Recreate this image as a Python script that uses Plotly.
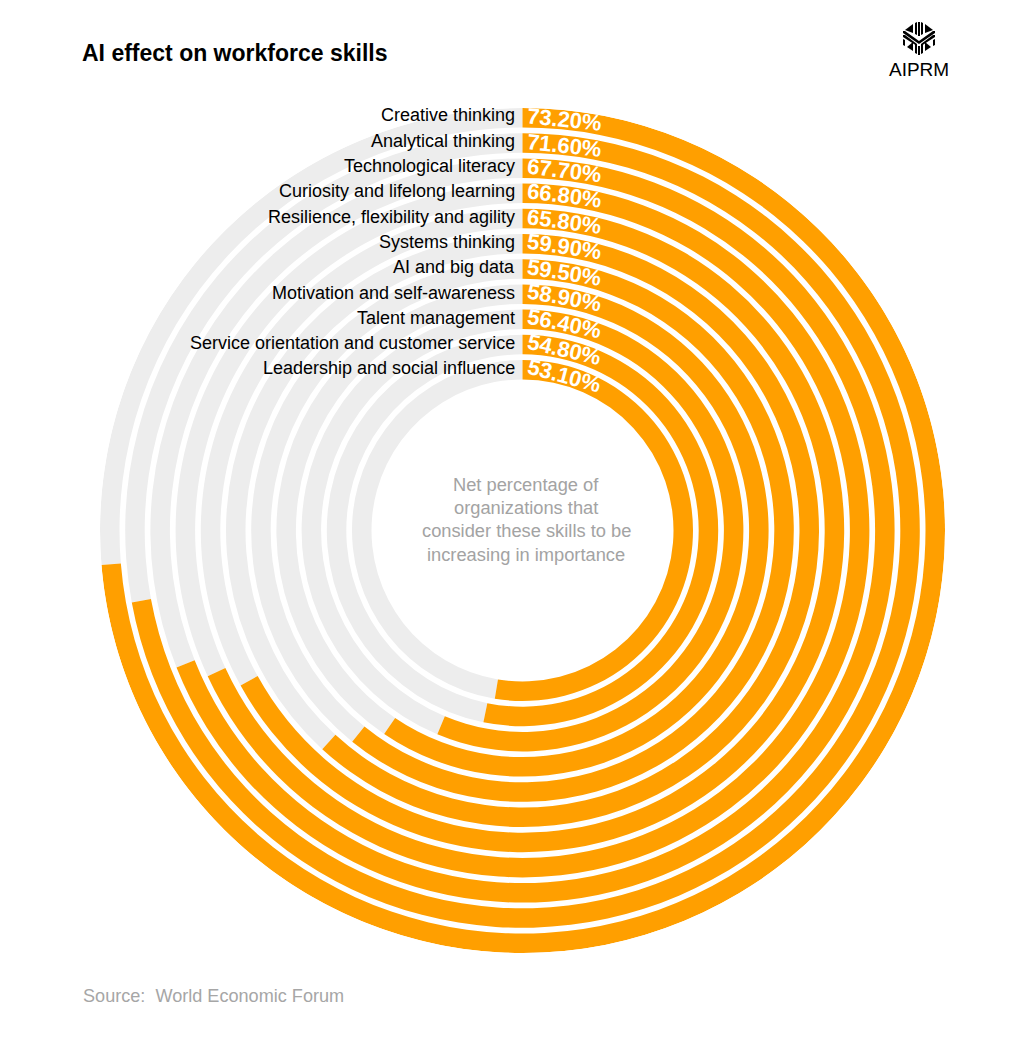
import math
import plotly.graph_objects as go

skills = ["Leadership and social influence", "Service orientation and customer service",
          "Talent management", "Motivation and self-awareness", "AI and big data",
          "Systems thinking", "Resilience, flexibility and agility",
          "Curiosity and lifelong learning", "Technological literacy",
          "Analytical thinking", "Creative thinking"]
printed_pct = ["53.10%", "54.80%", "56.40%", "58.90%", "59.50%", "59.90%",
               "65.80%", "66.80%", "67.70%", "71.60%", "73.20%"]
# share of the ring actually drawn in the picture, it is a bit off the printed numbers
drawn_pct = [52.6, 53.2, 56.3, 59.5, 60.8, 61.8, 67.0, 68.1, 69.0, 72.1, 73.7]
note_lines = ["Net percentage of", "organizations that",
              "consider these skills to be", "increasing in importance"]

W, H = 1024, 1050
CX, CY = 522.5, 530.5
R_OUT = 422.5
R_IN = 151
BAND = 19.5
PITCH = 25.2
ORANGE = "#FF9F00"
GREY = "#EDEDED"
FONT = "Liberation Sans"

def px(x):
    return x / W

def py(y):
    return 1 - y / H

bases = [R_IN + i * PITCH for i in range(len(skills))]
thickness = [BAND] * len(skills)

left_pct = [100 - p for p in drawn_pct]

fig = go.Figure()
fig.add_trace(go.Barpolar(
    r=thickness, base=bases,
    theta=[(p + q / 2) * 3.6 for p, q in zip(drawn_pct, left_pct)],
    width=[q * 3.6 for q in left_pct],
    marker=dict(color=GREY, line=dict(width=0)),
    hoverinfo="skip",
))
fig.add_trace(go.Barpolar(
    r=thickness, base=bases,
    theta=[p / 2 * 3.6 for p in drawn_pct],
    width=[p * 3.6 for p in drawn_pct],
    marker=dict(color=ORANGE, line=dict(width=0)),
    text=skills, customdata=printed_pct,
    hovertemplate="%{text}: %{customdata}<extra></extra>",
))

fig.update_layout(
    width=W, height=H,
    margin=dict(l=0, r=0, t=0, b=0),
    paper_bgcolor="white",
    showlegend=False,
    font=dict(family=FONT),
    title=dict(text="<b>AI effect on workforce skills</b>", x=px(82), y=py(53),
               xanchor="left", yanchor="middle",
               font=dict(size=23, color="black", family=FONT)),
    polar=dict(
        domain=dict(x=[px(CX - R_OUT), px(CX + R_OUT)], y=[py(CY + R_OUT), py(CY - R_OUT)]),
        bgcolor="white",
        barmode="overlay",
        radialaxis=dict(visible=False, range=[0, R_OUT]),
        angularaxis=dict(visible=False, direction="clockwise", rotation=90),
    ),
)

def note(text, x, y, size, color, anchor="center", angle=0):
    fig.add_annotation(text=text, x=px(x), y=py(y), xref="paper", yref="paper",
                       showarrow=False, xanchor=anchor, yanchor="middle", textangle=angle,
                       borderpad=0, font=dict(size=size, color=color, family=FONT))

for i, skill in enumerate(skills):
    note(skill, 516, 368.5 - i * 25.33, 18, "black", anchor="right")

    # percent sits on the band, just after the start of the arc
    r_mid = bases[i] + BAND / 2
    ang = (4 + 38) / r_mid
    x_mid = CX + r_mid * math.sin(ang)
    y_mid = CY - r_mid * math.cos(ang)
    note(f"<b>{printed_pct[i]}</b>", x_mid, y_mid, 22, "white", angle=math.degrees(ang))

for i, line in enumerate(note_lines):
    note(line, 526, 484 + i * 23.4, 18.3, "#A3A3A3")

note("Source:  World Economic Forum", 81.5, 996, 18.1, "#A6A6A6", anchor="left")
note("AIPRM", 919, 69, 19, "black")

# logo mark, drawn in page pixels
logo = [
    [(905, 30), (913, 24), (913, 33)],
    [(933, 30), (925, 24), (925, 33)],
    [(915, 23), (917, 22), (917, 35), (915, 34)],
    [(918, 22), (920, 22), (920, 36), (918, 36)],
    [(921, 22), (923, 23), (923, 34), (921, 35)],
    [(903, 31), (905, 31), (919, 41), (933, 31), (935, 31), (935, 33), (919, 44), (903, 33)],
    [(903, 35), (905, 35), (917, 44), (917, 46), (903, 37)],
    [(935, 35), (933, 35), (921, 44), (921, 46), (935, 37)],
    [(903, 39), (905, 40), (905, 46), (903, 45)],
    [(935, 39), (933, 40), (933, 46), (935, 45)],
    [(907, 47), (913, 42), (913, 51)],
    [(931, 47), (925, 42), (925, 51)],
    [(915, 43), (917, 45), (917, 54), (915, 53)],
    [(918, 46), (920, 46), (920, 55), (918, 55)],
    [(923, 43), (921, 45), (921, 54), (923, 53)],
]
for poly in logo:
    path = "M " + " L ".join(f"{px(x):.5f} {py(y):.5f}" for x, y in poly) + " Z"
    fig.add_shape(type="path", path=path, xref="paper", yref="paper",
                  fillcolor="black", line=dict(width=0))

# page default margin would push the chart 8px off
fig.write_html("out.html", config=dict(displayModeBar=False),
               post_script="document.body.style.margin='0';")
